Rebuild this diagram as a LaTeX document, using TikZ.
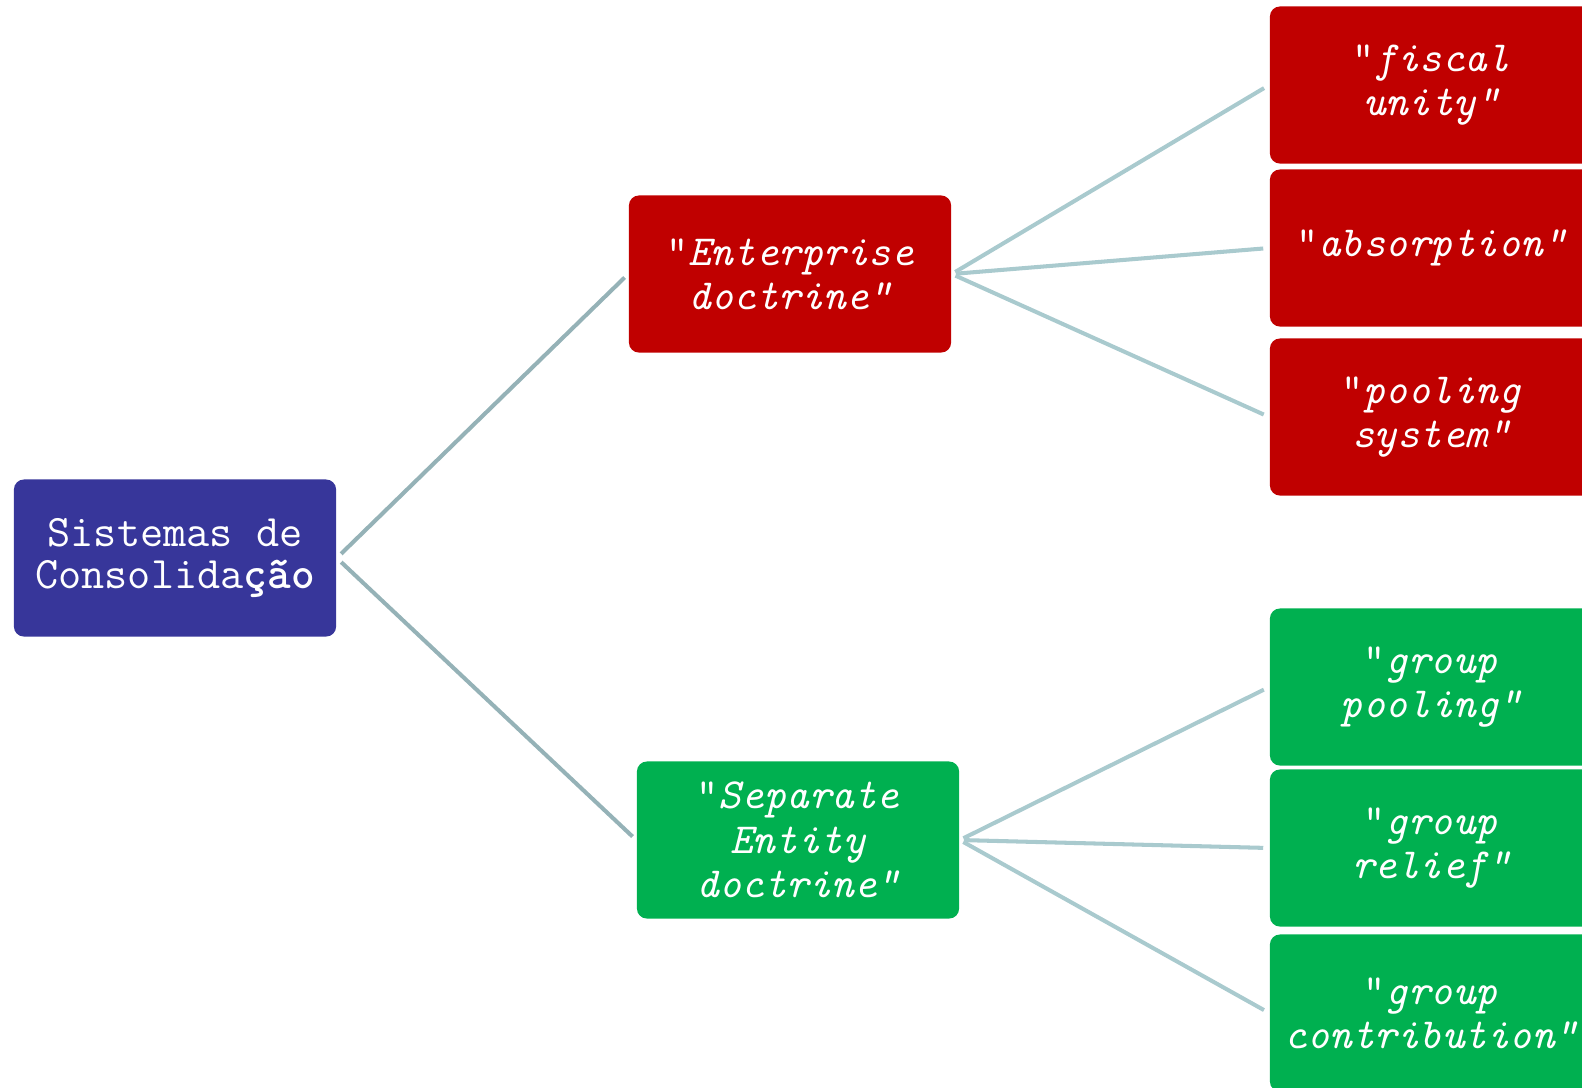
\documentclass[tikz,border=0pt]{standalone}
\usepackage{tikz}
\usetikzlibrary{positioning, calc}

\definecolor{rootblue}{HTML}{37369A}
\definecolor{docred}{HTML}{C00000}
\definecolor{docgreen}{HTML}{00B050}
\definecolor{trunkgrey}{HTML}{95B2B7}
\definecolor{twiggrey}{HTML}{A9CACE}

\begin{document}
\begin{tikzpicture}[
    % Global options: pixel grid, box and line looks
    x=0.01cm, y=-0.01cm,
    box/.style={rounded corners=0.1cm, inner sep=0pt,
      minimum width=3.22cm, minimum height=1.57cm, align=center,
      text=white, font=\ttfamily\itshape\fontsize{12.2}{12.6}\selectfont},
    rootbox/.style={box, fill=rootblue,
      font=\ttfamily\fontsize{12.8}{12.2}\selectfont},
    redbox/.style={box, fill=docred},
    greenbox/.style={box, fill=docgreen},
    trunk/.style={draw=trunkgrey, line width=1.15pt,
      shorten <=0.06cm, shorten >=0.05cm},
    twig/.style={draw=twiggrey, line width=1.15pt,
      shorten <=0.04cm, shorten >=0.06cm},
  ]
    \useasboundingbox (0,0) rectangle (1582,1087);

    % --- Root ---
    \node[rootbox] (root) at (175,558)
      {Sistemas de\\Consolida\bfseries ção};

    % --- Two doctrines ---
    \node[redbox] (ent) at (790,274)
      {{\upshape"}Enterprise\\doctrine"};
    \node[greenbox] (sep) at (798,840)
      {{\upshape"}Separate\\Entity\\doctrine"};

    % --- Systems, cut by the right edge ---
    \begin{scope}
      \clip (0,0) rectangle (1582,1087);
      \node[redbox] (fiscal) at (1431,85) {{\upshape"}fiscal\\unity"};
      \node[redbox] (absorb) at (1431,248) {{\upshape"}absorption"};
      \node[redbox] (pool) at (1431,417) {{\upshape"}pooling\\system"};
      \node[greenbox] (gpool) at (1431,687) {{\upshape"}group\\pooling"};
      \node[greenbox] (relief) at (1431,848) {{\upshape"}group\\relief"};
      \node[greenbox] (contrib) at (1431,1013)
        {{\upshape"}group\\contribution"};
    \end{scope}

    % --- Connectors ---
    \draw[trunk] (root.east) -- (ent.west);
    \draw[trunk] (root.east) -- (sep.west);
    \foreach \n in {fiscal, absorb, pool}
      \draw[twig] (ent.east) -- (\n.west);
    \foreach \n in {gpool, relief, contrib}
      \draw[twig] (sep.east) -- (\n.west);
  \end{tikzpicture}
\end{document}
